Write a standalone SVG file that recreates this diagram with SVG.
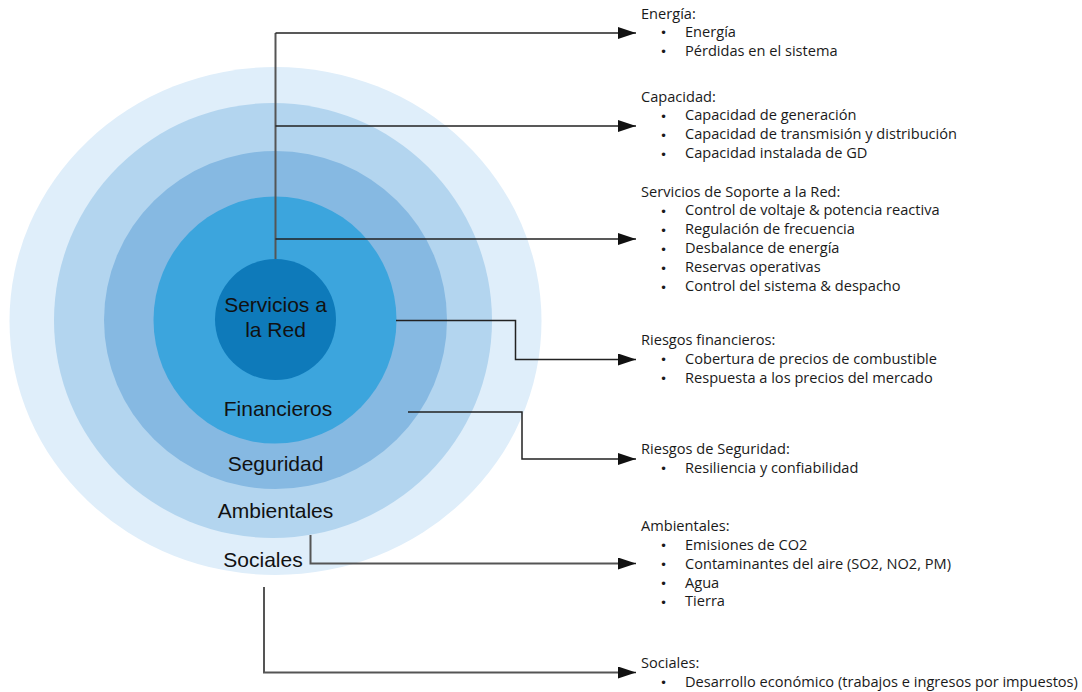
<svg xmlns="http://www.w3.org/2000/svg" width="1082" height="692" viewBox="0 0 1082 692">
<style>
.ring-label{font-family:"Liberation Sans",Arial,sans-serif;font-size:21px;fill:#111;text-anchor:middle}
.head{font-family:"Open Sans","Noto Sans",sans-serif;font-size:14.6px;fill:#1a1a1a}
.item{font-family:"Open Sans","Noto Sans",sans-serif;font-size:14.6px;fill:#1a1a1a}
.bul{font-family:"DejaVu Sans",sans-serif;font-size:12px;fill:#1a1a1a}
.conn{fill:none;stroke:#222;stroke-width:1.5}
.trunk{fill:none;stroke:#555;stroke-width:2}
</style>
<defs>
<marker id="arr" markerUnits="userSpaceOnUse" markerWidth="19" markerHeight="13" refX="18" refY="6" orient="auto">
<path d="M0,0 L18,6 L0,12 z" fill="#111"/>
</marker>
</defs>
<rect width="1082" height="692" fill="#fff"/>
<g id="ring-sociales"><ellipse cx="275.5" cy="321" rx="266" ry="254" fill="#dfeefa"/><text class="ring-label" x="263" y="567">Sociales</text></g>
<g id="ring-ambientales"><ellipse cx="273" cy="320.5" rx="219" ry="217.5" fill="#b3d5ef"/><text class="ring-label" x="275.5" y="518">Ambientales</text></g>
<g id="ring-seguridad"><ellipse cx="275.5" cy="320" rx="171.5" ry="169" fill="#86b9e2"/><text class="ring-label" x="275.5" y="471">Seguridad</text></g>
<g id="ring-financieros"><ellipse cx="275" cy="320" rx="121.5" ry="123.5" fill="#3ca5dd"/><text class="ring-label" x="278" y="416">Financieros</text></g>
<g id="core"><circle cx="275.5" cy="319.5" r="60.5" fill="#0e7aba"/><text class="ring-label" x="275.5" y="312">Servicios a</text><text class="ring-label" x="275.5" y="337">la Red</text></g>
<g id="connectors">
<path class="trunk" d="M275.5,259 V33"/>
<path class="conn" d="M275.5,33 H636" marker-end="url(#arr)"/>
<path class="conn" d="M275.5,126 H636" marker-end="url(#arr)"/>
<path class="conn" d="M275.5,239 H636" marker-end="url(#arr)"/>
<path class="conn" d="M396,320.5 H515.5 V359.5 H636" marker-end="url(#arr)"/>
<path class="conn" d="M408,412 H522 V459 H636" marker-end="url(#arr)"/>
<path class="trunk" d="M310.5,535 V563.5 H620"/>
<path class="conn" d="M618,563.5 H636" marker-end="url(#arr)"/>
<path class="trunk" d="M264,587 V672.5 H620"/>
<path class="conn" d="M618,672.5 H636" marker-end="url(#arr)"/>
</g>
<g id="energia">
<text class="head" x="641" y="18.5">Energía:</text>
<text class="bul" x="660" y="37">•</text><text class="item" x="685" y="36.5">Energía</text>
<text class="bul" x="660" y="56">•</text><text class="item" x="685" y="55.5">Pérdidas en el sistema</text>
</g>
<g id="capacidad">
<text class="head" x="641" y="101.5">Capacidad:</text>
<text class="bul" x="660" y="120.5">•</text><text class="item" x="685" y="120">Capacidad de generación</text>
<text class="bul" x="660" y="139.5">•</text><text class="item" x="685" y="139">Capacidad de transmisión y distribución</text>
<text class="bul" x="660" y="158.5">•</text><text class="item" x="685" y="158">Capacidad instalada de GD</text>
</g>
<g id="servicios">
<text class="head" x="641" y="196.5">Servicios de Soporte a la Red:</text>
<text class="bul" x="660" y="215.5">•</text><text class="item" x="685" y="215">Control de voltaje &amp; potencia reactiva</text>
<text class="bul" x="660" y="234.5">•</text><text class="item" x="685" y="234">Regulación de frecuencia</text>
<text class="bul" x="660" y="253.5">•</text><text class="item" x="685" y="253">Desbalance de energía</text>
<text class="bul" x="660" y="272.5">•</text><text class="item" x="685" y="272">Reservas operativas</text>
<text class="bul" x="660" y="291.5">•</text><text class="item" x="685" y="291">Control del sistema &amp; despacho</text>
</g>
<g id="riesgos-financieros">
<text class="head" x="641" y="345">Riesgos financieros:</text>
<text class="bul" x="660" y="364">•</text><text class="item" x="685" y="363.5">Cobertura de precios de combustible</text>
<text class="bul" x="660" y="383">•</text><text class="item" x="685" y="382.5">Respuesta a los precios del mercado</text>
</g>
<g id="riesgos-seguridad">
<text class="head" x="641" y="454">Riesgos de Seguridad:</text>
<text class="bul" x="660" y="473">•</text><text class="item" x="685" y="472.5">Resiliencia y confiabilidad</text>
</g>
<g id="ambientales">
<text class="head" x="641" y="530.5">Ambientales:</text>
<text class="bul" x="660" y="550">•</text><text class="item" x="685" y="549.5">Emisiones de CO2</text>
<text class="bul" x="660" y="569">•</text><text class="item" x="685" y="568.5">Contaminantes del aire (SO2, NO2, PM)</text>
<text class="bul" x="660" y="588">•</text><text class="item" x="685" y="587.5">Agua</text>
<text class="bul" x="660" y="606.5">•</text><text class="item" x="685" y="606">Tierra</text>
</g>
<g id="sociales">
<text class="head" x="641" y="667.5">Sociales:</text>
<text class="bul" x="660" y="687">•</text><text class="item" x="685" y="686.5">Desarrollo económico (trabajos e ingresos por impuestos)</text>
</g>
</svg>
